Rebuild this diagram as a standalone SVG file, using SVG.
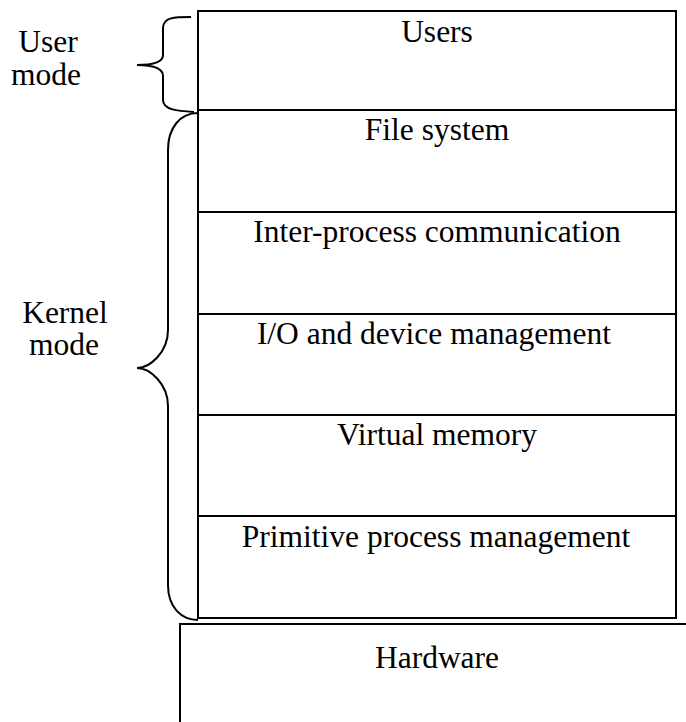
<svg xmlns="http://www.w3.org/2000/svg" width="686" height="722" viewBox="0 0 686 722">
<style>
.box{fill:#fff;stroke:#000;stroke-width:2}
.br{fill:none;stroke:#000;stroke-width:2}
.c{text-anchor:middle}
</style>
<rect width="686" height="722" fill="#fff"/>
<g font-family="Liberation Serif" font-size="31.5" fill="#000">
<g id="hardware"><rect class="box" x="180" y="624" width="520" height="120"/><text class="c" x="437" y="668">Hardware</text></g>
<g id="users"><rect class="box" x="198" y="11" width="478" height="99"/><text class="c" x="437" y="42">Users</text></g>
<g id="filesystem"><rect class="box" x="198" y="110" width="478" height="102"/><text class="c" x="437" y="140">File system</text></g>
<g id="ipc"><rect class="box" x="198" y="212" width="478" height="102"/><text class="c" x="437" y="242">Inter-process communication</text></g>
<g id="io"><rect class="box" x="198" y="314" width="478" height="101"/><text class="c" x="434" y="344">I/O and device management</text></g>
<g id="vm"><rect class="box" x="198" y="415" width="478" height="101"/><text class="c" x="437" y="445">Virtual memory</text></g>
<g id="ppm"><rect class="box" x="198" y="516" width="478" height="102"/><text class="c" x="436" y="547">Primitive process management</text></g>
<g id="connectors">
<path class="br" d="M191,17 C175,17 163,17 163,28 L163,55 C163,62 152,65 137,65 C152,65 163,68 163,76 L163,100 C163,110 178,111 194,112"/>
<path class="br" d="M198,113 C180,113 168,128 168,150 L168,330 C168,352 150,368 137,368 C150,368 168,384 168,406 L168,585 C168,608 182,620 198,620"/>
</g>
<g id="usermode"><text class="c" x="48" y="52">User</text><text class="c" x="46" y="85">mode</text></g>
<g id="kernelmode"><text class="c" x="65" y="323">Kernel</text><text class="c" x="64" y="355">mode</text></g>
</g>
</svg>
